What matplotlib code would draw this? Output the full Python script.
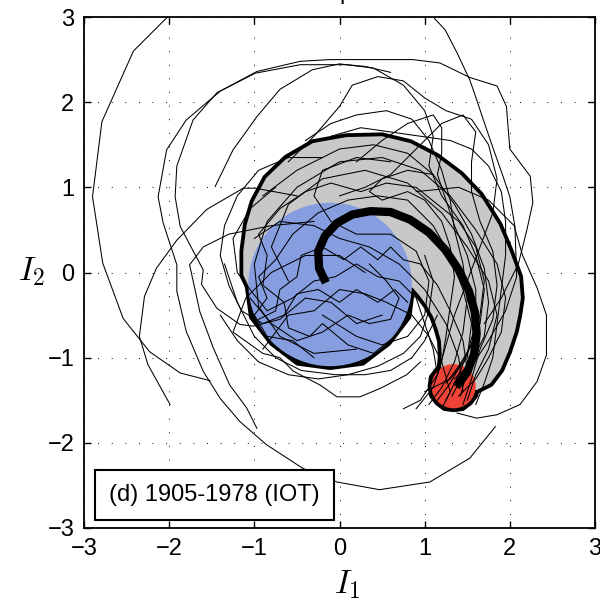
import numpy as np
import matplotlib
matplotlib.use("Agg")
import matplotlib.pyplot as plt
from matplotlib.patches import Polygon, Circle

plt.rcParams['font.family'] = ['Liberation Sans', 'DejaVu Sans']
plt.rcParams['mathtext.fontset'] = 'cm'

# ensemble mean path (thick line)
mean_x = [-0.16, -0.24, -0.25, -0.17, -0.03, 0.15, 0.36, 0.60, 0.83, 1.05,
          1.24, 1.40, 1.52, 1.59, 1.61, 1.58, 1.50, 1.37]
mean_y = [-0.12, 0.05, 0.25, 0.43, 0.58, 0.68, 0.72, 0.71, 0.62, 0.47,
          0.27, 0.03, -0.22, -0.47, -0.72, -0.96, -1.17, -1.34]

# start / end spread discs: (x, y, radius)
start_disc = (-0.11, -0.14, 0.96)
end_disc = (1.34, -1.335, 0.26)

# outline of the grey spread band
band_x = [1.34, 1.61, 1.77, 1.89, 1.98, 2.06, 2.10, 2.13, 2.11, 2.00, 1.87, 1.65,
          1.42, 1.14, 0.83, 0.50, 0.08, -0.31, -0.62, -0.86, -1.01, -1.09, -1.13,
          -1.13, -1.00, -0.11, 0.86, 0.93, 1.02, 1.10, 1.15, 1.19, 1.20, 1.19, 1.25]
band_y = [-1.33, -1.38, -1.30, -1.14, -0.93, -0.69, -0.50, -0.30, -0.05, 0.25, 0.56, 0.91,
          1.15, 1.36, 1.52, 1.60, 1.59, 1.52, 1.34, 1.11, 0.83, 0.56, 0.25,
          -0.03, -0.30, -0.14, -0.18, -0.26, -0.38, -0.52, -0.66, -0.80, -0.96, -1.10, -1.25]

# individual trajectories (I1, I2)
trajectories = [
    [(-1.90, 3.15), (-2.02, 3.0), (-2.42, 2.60), (-2.79, 1.77), (-2.90, 0.89), (-2.78, 0.11),
     (-2.54, -0.54), (-2.23, -0.93), (-1.87, -1.18), (-1.52, -1.27)],
    [(1.02, 3.10), (1.10, 3.0), (1.24, 2.85), (1.38, 2.58), (1.53, 2.26), (1.61, 2.03), (1.69, 1.79),
     (1.81, 1.44), (1.92, 1.13), (2.00, 0.89), (2.06, 0.54), (2.08, -0.05), (1.95, -0.45),
     (1.75, -0.80), (1.55, -1.10), (1.40, -1.30), (1.32, -1.45)],
    [(0.90, 0.95), (1.40, 1.00), (1.75, 0.85), (2.05, 0.55), (2.15, 0.20), (2.32, -0.18),
     (2.43, -0.50), (2.43, -0.97), (2.32, -1.28), (2.12, -1.55), (1.85, -1.67), (1.61, -1.71),
     (1.38, -1.65)],
    [(1.83, -1.81), (1.53, -2.18), (1.06, -2.46), (0.47, -2.55), (-0.03, -2.46), (-0.43, -2.30),
     (-0.86, -2.02), (-1.17, -1.75), (-1.40, -1.48), (-1.60, -1.16), (-1.80, -0.69), (-1.91, -0.22),
     (-1.91, 0.09), (-2.07, 0.58), (-2.13, 0.89), (-2.03, 1.44), (-1.80, 1.79), (-1.40, 2.13),
     (-0.97, 2.36), (-0.46, 2.48), (-0.11, 2.50), (0.36, 2.50), (0.86, 2.50), (1.18, 2.46),
     (1.53, 2.29), (1.85, 2.19), (1.96, 1.95), (2.00, 1.45), (2.24, 1.13), (2.27, 0.82),
     (2.20, 0.50), (2.10, 0.10), (1.90, -0.30), (1.70, -0.60)],
    [(0.60, 2.35), (0.30, 2.42), (0.08, 2.44), (-0.46, 2.44), (-0.99, 2.34), (-1.44, 2.11),
     (-1.72, 1.79), (-1.91, 1.25), (-1.93, 0.89), (-1.87, 0.54), (-1.60, 0.03), (-1.62, -0.14),
     (-1.44, -0.42), (-1.17, -0.61), (-1.01, -0.63), (-0.70, -0.55), (-0.40, -0.30),
     (-0.10, -0.35), (0.20, -0.60), (0.50, -0.50)],
    [(-1.46, 1.01), (-1.25, 1.44), (-0.97, 1.83), (-0.70, 2.15), (-0.32, 2.38), (0.00, 2.45),
     (0.40, 2.40), (0.75, 2.20), (1.00, 1.90), (1.10, 1.60), (1.05, 1.25), (1.20, 0.90),
     (1.45, 0.55), (1.60, 0.20), (1.70, -0.20), (1.65, -0.60), (1.50, -0.95), (1.30, -1.30),
     (1.15, -1.50)],
    [(-0.60, 1.30), (-0.30, 1.60), (0.00, 1.95), (0.15, 2.20), (0.45, 2.30), (0.75, 2.25),
     (1.00, 2.05), (1.25, 1.90), (1.55, 1.80), (1.75, 1.50), (1.85, 1.10), (1.80, 0.70),
     (1.65, 0.30), (1.50, -0.10), (1.35, -0.50), (1.25, -0.85), (1.15, -1.20), (0.95, -1.50),
     (0.75, -1.60)],
    [(-0.30, 0.60), (-0.80, 0.55), (-1.30, 0.45), (-1.60, 0.30), (-1.76, 0.09), (-1.64, -0.46),
     (-1.48, -0.89), (-1.29, -1.32), (-1.09, -1.59), (-0.97, -1.83)],
    [(-0.50, 0.90), (-0.99, 0.99), (-1.13, 0.99), (-1.56, 0.74), (-1.91, 0.38), (-2.15, 0.05),
     (-2.29, -0.28), (-2.35, -0.75), (-2.25, -1.08), (-1.99, -1.55)],
    [(-0.90, -0.90), (-0.60, -0.50), (-0.30, -0.45), (0.00, -0.20), (0.30, -0.25), (0.55, -0.35),
     (0.85, -0.50), (1.05, -0.75), (1.20, -1.05), (1.30, -1.40), (1.20, -1.60)],
    [(-1.00, 0.40), (-0.70, 0.60), (-0.30, 0.55), (0.00, 0.40), (0.35, 0.30), (0.70, 0.10),
     (1.00, -0.20), (1.25, -0.60), (1.40, -1.00), (1.45, -1.40)],
    [(-0.60, -0.10), (-0.80, 0.30), (-0.60, 0.80), (-0.20, 1.10), (0.30, 1.20), (0.80, 1.05),
     (1.20, 0.70), (1.50, 0.30), (1.75, -0.10), (1.85, -0.50), (1.75, -0.90), (1.60, -1.20),
     (1.50, -1.50)],
    [(0.20, -0.90), (-0.30, -0.95), (-0.70, -0.75), (-0.95, -0.40), (-1.00, 0.10), (-0.85, 0.60),
     (-0.50, 1.00), (0.00, 1.30), (0.50, 1.35), (0.95, 1.20), (1.30, 0.90), (1.60, 0.50),
     (1.85, 0.10), (1.95, -0.30), (1.90, -0.70), (1.75, -1.00), (1.60, -1.25), (1.40, -1.45)],
    [(0.30, 0.00), (0.00, 0.20), (-0.40, 0.20), (-0.80, 0.00), (-1.10, -0.30), (-1.25, -0.70),
     (-0.90, -0.95), (-0.70, -1.00), (-0.54, -1.16), (-0.23, -1.32), (-0.03, -1.46), (0.24, -1.46),
     (0.48, -1.36), (0.79, -1.20), (0.95, -1.05)],
    [(0.00, 0.90), (0.30, 1.00), (0.60, 1.15), (0.90, 1.45), (1.20, 1.75), (1.45, 1.85),
     (1.60, 1.65), (1.55, 1.30), (1.55, 0.95), (1.65, 0.60), (1.80, 0.25), (1.85, -0.15),
     (1.80, -0.55), (1.65, -0.90), (1.55, -1.25), (1.45, -1.55)],
    [(-0.40, 1.55), (-0.10, 1.75), (0.20, 1.85), (0.55, 1.90), (0.85, 1.80), (1.05, 1.55),
     (1.20, 1.20), (1.30, 0.85), (1.35, 0.50), (1.45, 0.10), (1.50, -0.30), (1.45, -0.70),
     (1.35, -1.05), (1.20, -1.35), (1.05, -1.55)],
    [(-0.90, 0.90), (-0.50, 1.20), (0.00, 1.45), (0.40, 1.50), (0.80, 1.40), (1.10, 1.15),
     (1.35, 0.80), (1.55, 0.45), (1.70, 0.05), (1.75, -0.35), (1.70, -0.75), (1.55, -1.05),
     (1.35, -1.25)],
    [(-0.20, -0.50), (0.20, -0.75), (0.50, -0.85), (0.80, -0.75), (1.00, -0.50), (1.05, -0.10),
     (0.90, 0.25), (0.60, 0.45), (0.20, 0.45), (-0.10, 0.60), (-0.30, 0.90), (-0.20, 1.20),
     (0.20, 1.35), (0.60, 1.30)],
    [(-1.05, -0.30), (-0.80, -0.60), (-0.50, -0.80), (-0.20, -0.70), (0.10, -0.50), (0.35, -0.60),
     (0.60, -0.55), (0.70, -0.30), (0.55, -0.10), (0.35, 0.10)],
    [(-0.95, -0.55), (-0.75, -0.45), (-0.70, -0.20), (-0.50, -0.05), (-0.45, 0.20), (-0.20, 0.30),
     (0.05, 0.15), (0.25, 0.30), (0.45, 0.15), (0.60, 0.30), (0.75, 0.15), (0.95, 0.10),
     (1.15, -0.15), (1.30, -0.45), (1.45, -0.80), (1.50, -1.15), (1.42, -1.45)],
    [(-0.30, -1.00), (-0.55, -0.80), (-0.85, -0.75), (-1.00, -0.50), (-0.85, -0.30), (-0.95, -0.05),
     (-0.75, 0.15), (-0.55, 0.45), (-0.25, 0.70), (0.10, 0.85), (0.45, 0.90), (0.80, 0.85),
     (1.10, 0.55), (1.30, 0.20), (1.45, -0.20), (1.55, -0.60), (1.50, -1.00), (1.30, -1.25),
     (1.00, -1.40)],
    [(0.65, -0.75), (0.40, -0.95), (0.10, -0.85), (-0.20, -0.60), (-0.35, -0.75), (-0.60, -0.65),
     (-0.65, -0.35), (-0.90, -0.15), (-0.85, 0.20), (-0.95, 0.45), (-0.70, 0.75), (-0.40, 0.95),
     (-0.10, 1.05), (0.25, 0.95), (0.55, 1.05), (0.90, 1.00), (1.15, 0.80), (1.40, 0.60),
     (1.60, 0.30), (1.70, -0.10), (1.65, -0.50), (1.55, -0.85), (1.40, -1.10), (1.25, -1.30)],
    [(-1.40, -0.50), (-1.20, -0.80), (-0.95, -1.05), (-0.60, -1.20), (-0.25, -1.25), (0.10, -1.20),
     (0.45, -1.10), (0.75, -0.95), (0.95, -0.75), (1.05, -0.45), (1.10, -0.10), (1.00, 0.20)],
    [(-1.35, 0.10), (-1.20, -0.35), (-1.00, -0.75), (-0.75, -1.00), (-0.45, -1.15), (-0.05, -1.20),
     (0.30, -1.20), (0.60, -1.15), (0.85, -1.00), (1.00, -0.80), (1.15, -0.50)],
    [(0.20, 1.30), (0.50, 1.55), (0.80, 1.75), (1.10, 1.85), (1.20, 1.70), (1.20, 1.40),
     (1.15, 1.15), (1.25, 0.85), (1.35, 0.55), (1.50, 0.20), (1.60, -0.20), (1.60, -0.60),
     (1.50, -0.95), (1.40, -1.20), (1.25, -1.50)],
    [(-0.10, 1.60), (0.25, 1.70), (0.60, 1.65), (0.95, 1.60), (1.30, 1.55), (1.55, 1.45),
     (1.75, 1.25), (1.90, 0.95), (1.95, 0.60), (1.95, 0.20), (1.90, -0.20), (1.85, -0.60),
     (1.80, -1.00), (1.70, -1.30), (1.60, -1.55)],
    [(1.10, 1.15), (0.80, 1.20), (0.50, 1.10), (0.35, 0.95), (0.50, 0.85), (0.80, 0.95),
     (1.00, 0.85), (1.20, 0.60), (1.30, 0.30), (1.35, -0.05), (1.30, -0.40), (1.25, -0.75),
     (1.20, -1.05), (1.10, -1.35), (0.90, -1.60)],
    [(-0.20, 1.35), (-0.60, 1.35), (-0.95, 1.20), (-1.20, 0.90), (-1.35, 0.55), (-1.40, 0.20),
     (-1.30, -0.15), (-1.15, -0.45), (-0.90, -0.60), (-0.65, -0.50), (-0.50, -0.25), (-0.25, -0.20),
     (0.00, -0.35), (0.20, -0.20), (0.45, -0.35), (0.65, -0.20), (0.80, -0.35)],
    [(-0.75, 1.00), (-1.05, 0.75), (-1.25, 0.40), (-1.20, 0.00), (-1.05, -0.20), (-0.85, -0.45),
     (-0.55, -0.30), (-0.30, -0.10), (-0.05, -0.05), (0.20, 0.10), (0.45, -0.05), (0.70, -0.10),
     (0.90, -0.30), (1.00, -0.60), (1.10, -0.90), (1.15, -1.20)],
]

label = "(d) 1905-1978 (IOT)"
ticks = [-3, -2, -1, 0, 1, 2, 3]

fig = plt.figure(figsize=(6, 6.02), dpi=100)
ax = fig.add_axes([84 / 600, 74 / 602, 511 / 600, 511 / 602])

# spread band + discs: edges first, fills on top -> outline of the union
band = list(zip(band_x, band_y))
shapes = [
    Polygon(band, closed=True, facecolor='#c8c8c8'),
    Circle(start_disc[:2], start_disc[2], facecolor='#869ee0'),
    Circle(end_disc[:2], end_disc[2], facecolor='#ee4336'),
]
for s in shapes:
    edge = Polygon(s.get_verts(), closed=True, facecolor='none', edgecolor='k',
                   lw=5.5, joinstyle='round', zorder=1)
    ax.add_patch(edge)
for s in shapes:
    s.set_edgecolor('none')
    s.set_zorder(2)
    ax.add_patch(s)

for tr in trajectories:
    xs, ys = zip(*tr)
    ax.plot(xs, ys, color='k', lw=0.75, zorder=3)

ax.plot(mean_x, mean_y, color='k', lw=6, solid_capstyle='butt',
        solid_joinstyle='round', zorder=4)

ax.text(-1.47, -2.61, label, fontsize=17, ha='center', va='center', zorder=6,
        bbox=dict(boxstyle='square,pad=0.6', facecolor='white', edgecolor='k', lw=1.5))

ax.set_xlim(-3, 3)
ax.set_ylim(-3, 3)
ax.set_xticks(ticks)
ax.set_yticks(ticks)
ax.grid(True, color='k', lw=0.7, linestyle=(0, (1, 13)))
ax.set_axisbelow(True)
ax.tick_params(direction='in', top=True, right=True, length=5, width=1,
               labelsize=17, pad=7)
for sp in ax.spines.values():
    sp.set_linewidth(1.3)
    sp.set_zorder(7)

fig.text(0.578, 0.028, r'$I_1$', fontsize=24, ha='center', va='center')
fig.text(0.053, 0.548, r'$I_2$', fontsize=24, ha='center', va='center')
fig.text(0.565, 1.0 + 1 / 602, 'p', fontsize=17, ha='left', va='baseline')

fig.savefig('out.png', dpi=100)
